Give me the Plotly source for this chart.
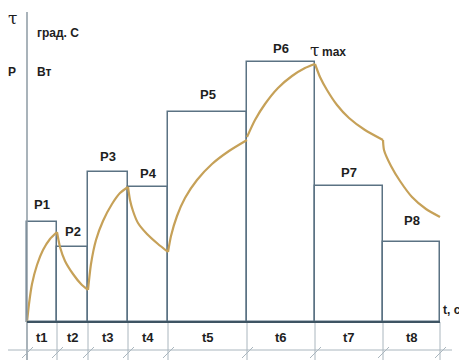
import numpy as np
import plotly.graph_objects as go

# Load stages: durations and power levels
stages = ["t1", "t2", "t3", "t4", "t5", "t6", "t7", "t8"]
power_labels = ["P1", "P2", "P3", "P4", "P5", "P6", "P7", "P8"]
durations = [30, 31, 40, 40, 79, 68, 68, 57]
power = [100, 75, 150, 135, 210, 260, 136, 80]

# Temperature curve, one list of (t, tau) points per stage
curve_segments = [
    [(0, 0), (2, 18), (5, 38), (10, 57), (16, 72), (23, 83), (30, 90)],
    [(30, 90), (33, 75), (38, 61), (46, 48), (54, 38), (61, 32)],
    [(61, 32), (64, 58), (69, 82), (76, 101), (85, 118), (93, 129), (101, 135)],
    [(101, 135), (103, 122), (106, 111), (111, 99), (120, 88), (131, 78), (141, 70)],
    [(141, 70), (144, 86), (150, 106), (158, 124), (170, 142), (185, 158), (202, 171), (220, 182)],
    [(220, 185), (228, 202), (238, 218), (251, 234), (265, 246), (278, 254), (288, 258)],
    [(288, 258), (293, 245), (300, 232), (310, 217), (322, 204), (338, 192), (356, 182)],
    [(356, 182), (357, 172), (364, 156), (373, 141), (385, 125), (399, 113), (413, 105)],
]

BOX = "#5b7283"
AXIS = "#3e5463"
GRID = "#aab6be"
CURVE = "#c6a158"
TEXT = "#1e1e1e"
FONT = "Liberation Sans"

edges = np.concatenate([[0], np.cumsum(durations)])
centers = (edges[:-1] + edges[1:]) / 2
t_end = edges[-1]

fig = go.Figure()

# Power steps as outlined bars
fig.add_trace(go.Bar(
    x=centers, y=power, width=durations,
    marker=dict(color="rgba(0,0,0,0)", line=dict(color=BOX, width=1.5)),
    hoverinfo="skip", showlegend=False,
))

# Heating / cooling curve
for seg in curve_segments:
    ts, taus = zip(*seg)
    fig.add_trace(go.Scatter(
        x=ts, y=taus, mode="lines",
        line=dict(color=CURVE, width=2.2, shape="spline", smoothing=0.6),
        hoverinfo="skip", showlegend=False,
    ))

shapes = []
# vertical axis
shapes.append(dict(type="line", x0=0, x1=0, y0=-40, y1=310,
                   line=dict(color="#8d9aa3", width=1.5)))
# stage boundaries continuing under the time axis
for e in edges[1:]:
    shapes.append(dict(type="line", x0=e, x1=e, y0=-40, y1=0,
                       line=dict(color=GRID, width=1)))
# lower dimension line
shapes.append(dict(type="line", x0=-19, x1=425, y0=-28, y1=-28,
                   line=dict(color=GRID, width=1)))
# slash ticks on the dimension line
for e in edges:
    shapes.append(dict(type="line", x0=e - 5, x1=e + 6, y0=-36, y1=-25,
                       line=dict(color=GRID, width=1)))
# time axis
shapes.append(dict(type="line", x0=0, x1=t_end, y0=0, y1=0,
                   line=dict(color=AXIS, width=2.2)))

annotations = []
bold = dict(family=FONT, size=13, color=TEXT)
label_lift = [18, 16, 16, 14, 18, 14, 14, 22]
for c, p, lab, lift in zip(centers, power, power_labels, label_lift):
    annotations.append(dict(x=c, y=p, text=f"<b>{lab}</b>", showarrow=False,
                            yshift=lift, font=bold))
for c, lab in zip(centers, stages):
    annotations.append(dict(x=c, y=-15, text=f"<b>{lab}</b>", showarrow=False,
                            font=bold))

annotations += [
    dict(x=-15, y=304, text="τ", showarrow=False,
         font=dict(family="DejaVu Serif", size=17, color=TEXT)),
    dict(x=8, y=289, text="<b>град. С</b>", showarrow=False, xanchor="left",
         font=dict(family=FONT, size=12, color=TEXT)),
    dict(x=-15, y=250, text="<b>P</b>", showarrow=False,
         font=dict(family=FONT, size=12, color=TEXT)),
    dict(x=8, y=250, text="<b>Вт</b>", showarrow=False, xanchor="left",
         font=dict(family=FONT, size=12, color=TEXT)),
    dict(x=281, y=272, text="τ", showarrow=False, xanchor="left",
         font=dict(family="DejaVu Serif", size=17, color=TEXT)),
    dict(x=293, y=270, text="<b>max</b>", showarrow=False, xanchor="left",
         font=dict(family=FONT, size=12, color=TEXT)),
    dict(x=414, y=12, text="<b>t, с</b>", showarrow=False, xanchor="left",
         font=dict(family=FONT, size=12, color=TEXT)),
]

fig.update_layout(
    width=459, height=360,
    margin=dict(l=0, r=0, t=0, b=0),
    paper_bgcolor="white", plot_bgcolor="white",
    xaxis=dict(range=[-27, 432], visible=False, fixedrange=True),
    yaxis=dict(range=[-38, 322], visible=False, fixedrange=True),
    shapes=shapes, annotations=annotations,
    bargap=0,
)

fig.write_html("out.html")
